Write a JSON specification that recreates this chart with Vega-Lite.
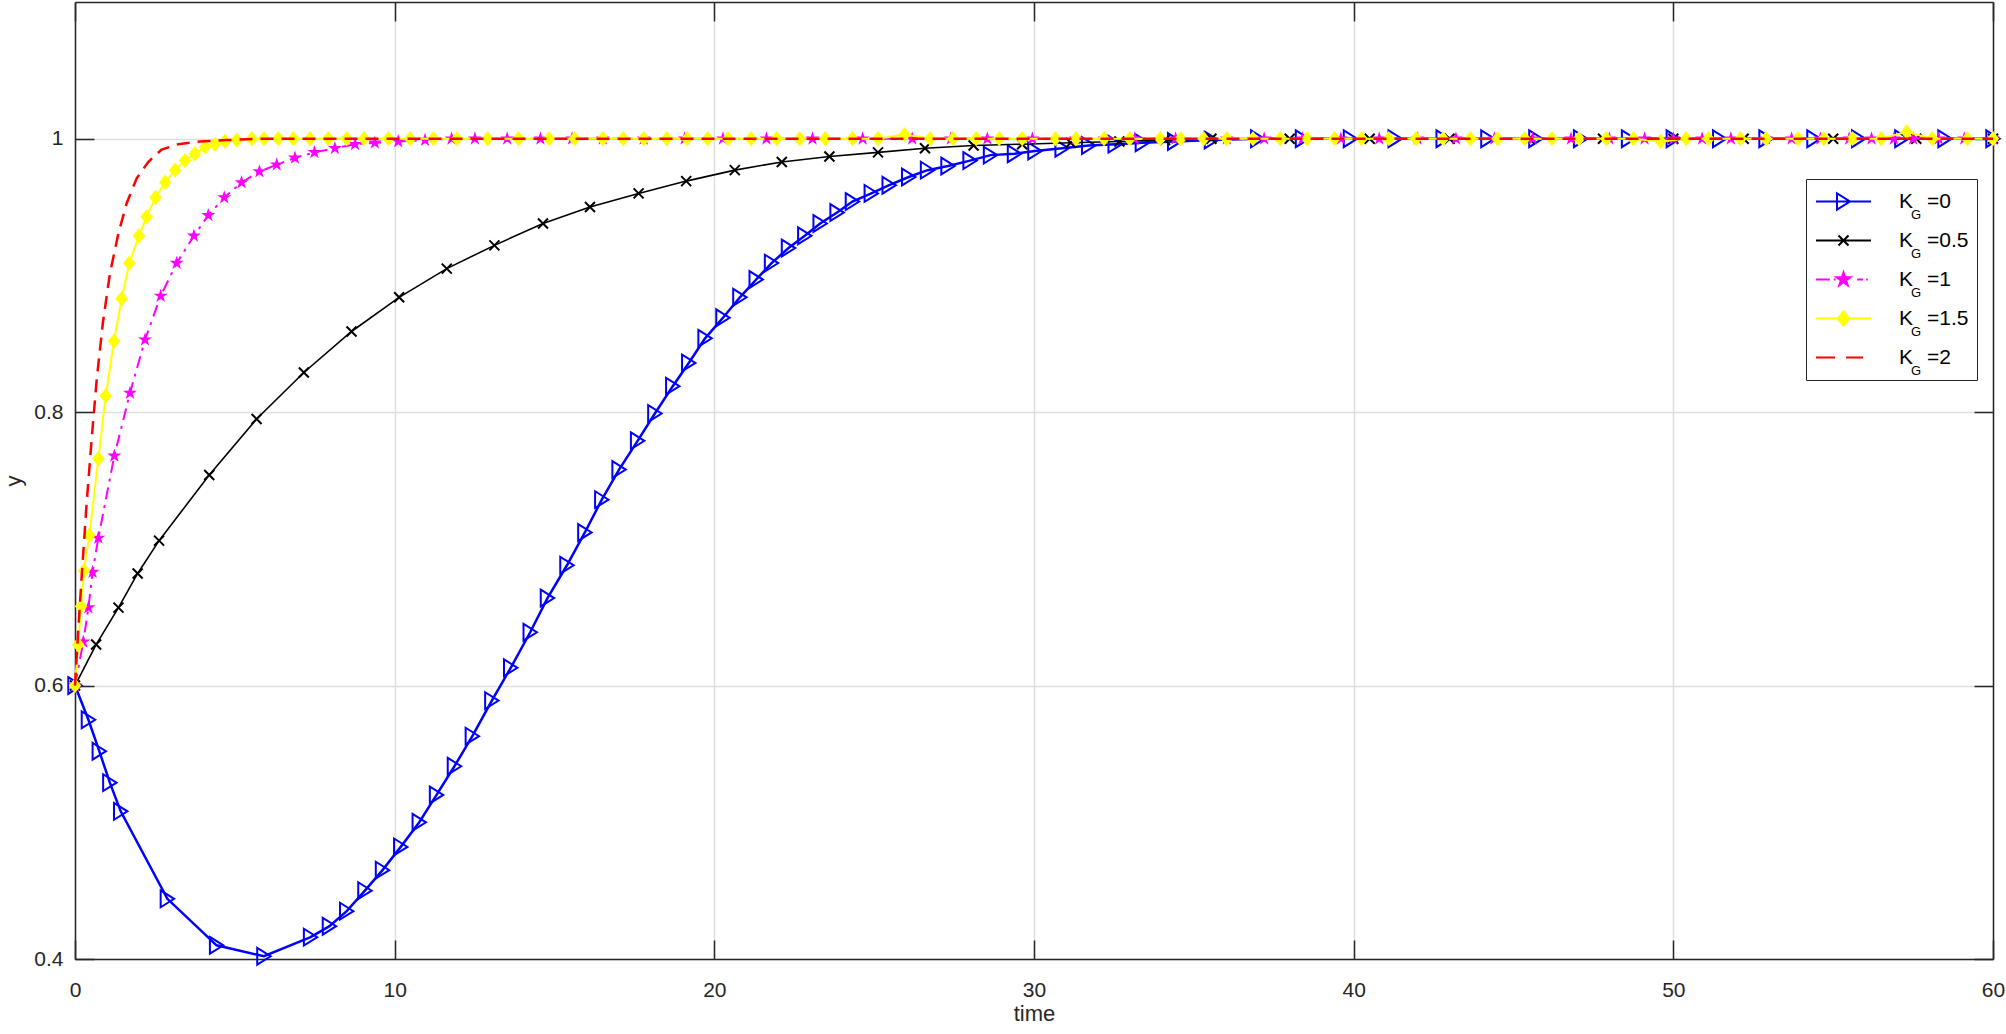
{
"$schema": "https://vega.github.io/schema/vega-lite/v6.json",
"width": 1918, "height": 957,
"autosize": {"type": "none"},
"padding": {"left": 75, "top": 2, "right": 13, "bottom": 75},
"background": "white",
"config": {"font": "Liberation Sans", "view": {"stroke": null}},
"data": {"values": [
{"kg":0,"t":0,"y":0.6},{"kg":0,"t":0.42,"y":0.575},{"kg":0,"t":0.76,"y":0.552},{"kg":0,"t":1.09,"y":0.529},{"kg":0,"t":1.43,"y":0.508},{"kg":0,"t":2.89,"y":0.444},{"kg":0,"t":4.43,"y":0.41},{"kg":0,"t":5.91,"y":0.402},{"kg":0,"t":7.37,"y":0.416},{"kg":0,"t":7.96,"y":0.424},{"kg":0,"t":8.5,"y":0.435},{"kg":0,"t":9.07,"y":0.45},{"kg":0,"t":9.62,"y":0.465},{"kg":0,"t":10.19,"y":0.482},{"kg":0,"t":10.77,"y":0.5},{"kg":0,"t":11.31,"y":0.52},{"kg":0,"t":11.87,"y":0.541},{"kg":0,"t":12.43,"y":0.563},{"kg":0,"t":13.04,"y":0.589},{"kg":0,"t":13.63,"y":0.613},{"kg":0,"t":14.24,"y":0.639},{"kg":0,"t":14.78,"y":0.664},{"kg":0,"t":15.39,"y":0.688},{"kg":0,"t":15.95,"y":0.712},{"kg":0,"t":16.48,"y":0.736},{"kg":0,"t":17.02,"y":0.758},{"kg":0,"t":17.6,"y":0.779},{"kg":0,"t":18.14,"y":0.799},{"kg":0,"t":18.7,"y":0.819},{"kg":0,"t":19.2,"y":0.836},{"kg":0,"t":19.71,"y":0.854},{"kg":0,"t":20.27,"y":0.869},{"kg":0,"t":20.8,"y":0.884},{"kg":0,"t":21.31,"y":0.897},{"kg":0,"t":21.79,"y":0.909},{"kg":0,"t":22.32,"y":0.92},{"kg":0,"t":22.83,"y":0.929},{"kg":0,"t":23.31,"y":0.938},{"kg":0,"t":23.84,"y":0.946},{"kg":0,"t":24.32,"y":0.954},{"kg":0,"t":24.91,"y":0.96},{"kg":0,"t":25.47,"y":0.966},{"kg":0,"t":26.08,"y":0.972},{"kg":0,"t":26.67,"y":0.977},{"kg":0,"t":27.31,"y":0.98},{"kg":0,"t":28.0,"y":0.984},{"kg":0,"t":28.64,"y":0.988},{"kg":0,"t":29.39,"y":0.989},{"kg":0,"t":30.03,"y":0.991},{"kg":0,"t":30.88,"y":0.993},{"kg":0,"t":31.71,"y":0.995},{"kg":0,"t":32.54,"y":0.996},{"kg":0,"t":33.39,"y":0.997},{"kg":0,"t":34.4,"y":0.998},{"kg":0,"t":35.55,"y":0.999},{"kg":0,"t":37.0,"y":1},{"kg":0,"t":38.4,"y":1},{"kg":0,"t":39.9,"y":1},{"kg":0,"t":41.3,"y":1},{"kg":0,"t":42.8,"y":1},{"kg":0,"t":44.2,"y":1},{"kg":0,"t":45.7,"y":1},{"kg":0,"t":47.1,"y":1},{"kg":0,"t":48.6,"y":1},{"kg":0,"t":50.0,"y":1},{"kg":0,"t":51.45,"y":1},{"kg":0,"t":52.9,"y":1},{"kg":0,"t":54.4,"y":1},{"kg":0,"t":55.8,"y":1},{"kg":0,"t":57.15,"y":1},{"kg":0,"t":58.5,"y":1},{"kg":0,"t":60,"y":1},
{"kg":0.5,"t":0,"y":0.6},{"kg":0.5,"t":0.66,"y":0.63},{"kg":0.5,"t":1.36,"y":0.657},{"kg":0.5,"t":1.96,"y":0.682},{"kg":0.5,"t":2.63,"y":0.706},{"kg":0.5,"t":4.2,"y":0.754},{"kg":0.5,"t":5.68,"y":0.795},{"kg":0.5,"t":7.16,"y":0.829},{"kg":0.5,"t":8.65,"y":0.859},{"kg":0.5,"t":10.14,"y":0.884},{"kg":0.5,"t":11.63,"y":0.905},{"kg":0.5,"t":13.12,"y":0.922},{"kg":0.5,"t":14.64,"y":0.938},{"kg":0.5,"t":16.11,"y":0.95},{"kg":0.5,"t":17.63,"y":0.96},{"kg":0.5,"t":19.12,"y":0.969},{"kg":0.5,"t":20.64,"y":0.977},{"kg":0.5,"t":22.11,"y":0.983},{"kg":0.5,"t":23.6,"y":0.987},{"kg":0.5,"t":25.12,"y":0.99},{"kg":0.5,"t":26.59,"y":0.993},{"kg":0.5,"t":28.11,"y":0.995},{"kg":0.5,"t":29.63,"y":0.996},{"kg":0.5,"t":31.15,"y":0.997},{"kg":0.5,"t":32.67,"y":0.998},{"kg":0.5,"t":34.1,"y":0.999},{"kg":0.5,"t":35.55,"y":1},{"kg":0.5,"t":38.0,"y":1},{"kg":0.5,"t":40.5,"y":1},{"kg":0.5,"t":43.0,"y":1},{"kg":0.5,"t":45.5,"y":1},{"kg":0.5,"t":47.8,"y":1},{"kg":0.5,"t":50.0,"y":1},{"kg":0.5,"t":52.2,"y":1},{"kg":0.5,"t":55.0,"y":1},{"kg":0.5,"t":57.6,"y":1},{"kg":0.5,"t":60,"y":1},
{"kg":1,"t":0,"y":0.6},{"kg":1,"t":0.26,"y":0.632},{"kg":1,"t":0.42,"y":0.657},{"kg":1,"t":0.55,"y":0.683},{"kg":1,"t":0.73,"y":0.708},{"kg":1,"t":1.23,"y":0.768},{"kg":1,"t":1.72,"y":0.814},{"kg":1,"t":2.19,"y":0.853},{"kg":1,"t":2.68,"y":0.885},{"kg":1,"t":3.18,"y":0.909},{"kg":1,"t":3.72,"y":0.929},{"kg":1,"t":4.17,"y":0.944},{"kg":1,"t":4.67,"y":0.957},{"kg":1,"t":5.21,"y":0.968},{"kg":1,"t":5.77,"y":0.976},{"kg":1,"t":6.31,"y":0.981},{"kg":1,"t":6.88,"y":0.986},{"kg":1,"t":7.49,"y":0.99},{"kg":1,"t":8.13,"y":0.993},{"kg":1,"t":8.76,"y":0.996},{"kg":1,"t":9.38,"y":0.997},{"kg":1,"t":10.11,"y":0.998},{"kg":1,"t":10.95,"y":0.999},{"kg":1,"t":11.78,"y":1},{"kg":1,"t":12.51,"y":1},{"kg":1,"t":13.52,"y":1},{"kg":1,"t":14.56,"y":1},{"kg":1,"t":15.55,"y":1},{"kg":1,"t":16.51,"y":1},{"kg":1,"t":17.79,"y":1},{"kg":1,"t":19.07,"y":1},{"kg":1,"t":20.27,"y":1},{"kg":1,"t":21.63,"y":1},{"kg":1,"t":23.07,"y":1},{"kg":1,"t":24.64,"y":1},{"kg":1,"t":26.19,"y":1},{"kg":1,"t":27.4,"y":1},{"kg":1,"t":28.54,"y":1},{"kg":1,"t":29.95,"y":1},{"kg":1,"t":31.31,"y":1},{"kg":1,"t":32.2,"y":1},{"kg":1,"t":33.15,"y":1},{"kg":1,"t":34.43,"y":1},{"kg":1,"t":36.03,"y":1},{"kg":1,"t":37.2,"y":1},{"kg":1,"t":38.4,"y":1},{"kg":1,"t":39.6,"y":1},{"kg":1,"t":40.8,"y":1},{"kg":1,"t":42.0,"y":1},{"kg":1,"t":43.2,"y":1},{"kg":1,"t":44.4,"y":1},{"kg":1,"t":45.6,"y":1},{"kg":1,"t":46.8,"y":1},{"kg":1,"t":48.0,"y":1},{"kg":1,"t":49.1,"y":1},{"kg":1,"t":50.0,"y":1},{"kg":1,"t":50.9,"y":1},{"kg":1,"t":51.8,"y":1},{"kg":1,"t":52.9,"y":1},{"kg":1,"t":53.7,"y":1},{"kg":1,"t":54.6,"y":1},{"kg":1,"t":55.5,"y":1},{"kg":1,"t":56.2,"y":1},{"kg":1,"t":56.9,"y":1},{"kg":1,"t":57.5,"y":1},{"kg":1,"t":58.3,"y":1},{"kg":1,"t":59.1,"y":1},{"kg":1,"t":60,"y":1},
{"kg":1.5,"t":0,"y":0.6},{"kg":1.5,"t":0.1,"y":0.63},{"kg":1.5,"t":0.19,"y":0.658},{"kg":1.5,"t":0.28,"y":0.684},{"kg":1.5,"t":0.45,"y":0.71},{"kg":1.5,"t":0.73,"y":0.766},{"kg":1.5,"t":0.96,"y":0.812},{"kg":1.5,"t":1.22,"y":0.852},{"kg":1.5,"t":1.46,"y":0.883},{"kg":1.5,"t":1.7,"y":0.909},{"kg":1.5,"t":2.0,"y":0.929},{"kg":1.5,"t":2.24,"y":0.943},{"kg":1.5,"t":2.52,"y":0.957},{"kg":1.5,"t":2.82,"y":0.968},{"kg":1.5,"t":3.13,"y":0.977},{"kg":1.5,"t":3.44,"y":0.984},{"kg":1.5,"t":3.75,"y":0.989},{"kg":1.5,"t":4.07,"y":0.994},{"kg":1.5,"t":4.38,"y":0.996},{"kg":1.5,"t":4.69,"y":0.998},{"kg":1.5,"t":5.06,"y":0.999},{"kg":1.5,"t":5.53,"y":1},{"kg":1.5,"t":5.91,"y":1},{"kg":1.5,"t":6.36,"y":1},{"kg":1.5,"t":6.83,"y":1},{"kg":1.5,"t":7.35,"y":1},{"kg":1.5,"t":7.92,"y":1},{"kg":1.5,"t":8.5,"y":1},{"kg":1.5,"t":9.04,"y":1},{"kg":1.5,"t":9.8,"y":1},{"kg":1.5,"t":10.48,"y":1},{"kg":1.5,"t":11.21,"y":1},{"kg":1.5,"t":11.95,"y":1},{"kg":1.5,"t":12.91,"y":1},{"kg":1.5,"t":13.87,"y":1},{"kg":1.5,"t":14.83,"y":1},{"kg":1.5,"t":15.63,"y":1},{"kg":1.5,"t":16.51,"y":1},{"kg":1.5,"t":17.15,"y":1},{"kg":1.5,"t":17.79,"y":1},{"kg":1.5,"t":18.51,"y":1},{"kg":1.5,"t":19.15,"y":1},{"kg":1.5,"t":19.79,"y":1},{"kg":1.5,"t":20.43,"y":1},{"kg":1.5,"t":21.15,"y":1},{"kg":1.5,"t":21.95,"y":1},{"kg":1.5,"t":22.67,"y":1},{"kg":1.5,"t":23.47,"y":1},{"kg":1.5,"t":24.32,"y":1},{"kg":1.5,"t":25.12,"y":1},{"kg":1.5,"t":25.95,"y":1.003},{"kg":1.5,"t":26.75,"y":1},{"kg":1.5,"t":27.47,"y":1},{"kg":1.5,"t":28.19,"y":1},{"kg":1.5,"t":28.91,"y":1},{"kg":1.5,"t":29.63,"y":1},{"kg":1.5,"t":30.67,"y":1},{"kg":1.5,"t":31.31,"y":1},{"kg":1.5,"t":32.19,"y":1},{"kg":1.5,"t":32.99,"y":1},{"kg":1.5,"t":33.95,"y":1},{"kg":1.5,"t":34.59,"y":1},{"kg":1.5,"t":35.31,"y":1},{"kg":1.5,"t":36.03,"y":1},{"kg":1.5,"t":36.85,"y":1},{"kg":1.5,"t":37.7,"y":1},{"kg":1.5,"t":38.55,"y":1},{"kg":1.5,"t":39.4,"y":1},{"kg":1.5,"t":40.25,"y":1},{"kg":1.5,"t":41.1,"y":1},{"kg":1.5,"t":41.95,"y":1},{"kg":1.5,"t":42.8,"y":1},{"kg":1.5,"t":43.65,"y":1},{"kg":1.5,"t":44.5,"y":1},{"kg":1.5,"t":45.35,"y":1},{"kg":1.5,"t":46.2,"y":1},{"kg":1.5,"t":47.05,"y":1},{"kg":1.5,"t":47.9,"y":1},{"kg":1.5,"t":48.75,"y":1},{"kg":1.5,"t":49.6,"y":0.998},{"kg":1.5,"t":50.4,"y":1},{"kg":1.5,"t":51.1,"y":1},{"kg":1.5,"t":52.1,"y":1},{"kg":1.5,"t":52.9,"y":1},{"kg":1.5,"t":53.9,"y":1},{"kg":1.5,"t":54.7,"y":1},{"kg":1.5,"t":55.6,"y":1},{"kg":1.5,"t":56.5,"y":1},{"kg":1.5,"t":57.3,"y":1.005},{"kg":1.5,"t":58.1,"y":1},{"kg":1.5,"t":59.2,"y":1},{"kg":1.5,"t":60,"y":1},
{"kg":2,"t":0,"y":0.6},{"kg":2,"t":0.1,"y":0.64},{"kg":2,"t":0.21,"y":0.68},{"kg":2,"t":0.36,"y":0.732},{"kg":2,"t":0.52,"y":0.78},{"kg":2,"t":0.68,"y":0.824},{"kg":2,"t":0.87,"y":0.865},{"kg":2,"t":1.09,"y":0.901},{"kg":2,"t":1.36,"y":0.931},{"kg":2,"t":1.62,"y":0.953},{"kg":2,"t":1.93,"y":0.971},{"kg":2,"t":2.29,"y":0.983},{"kg":2,"t":2.71,"y":0.992},{"kg":2,"t":3.23,"y":0.996},{"kg":2,"t":3.91,"y":0.998},{"kg":2,"t":4.74,"y":0.999},{"kg":2,"t":5.79,"y":1},{"kg":2,"t":60,"y":1}
]},
"encoding": {
  "x": {"field": "t", "type": "quantitative", "scale": {"domain": [0, 60], "nice": false, "zero": false}, "axis": null},
  "y": {"field": "y", "type": "quantitative", "scale": {"domain": [0.4, 1.1], "nice": false, "zero": false}, "axis": null}
},
"layer": [
  {"transform": [{"filter": "datum.kg == 0"}],
   "mark": {"type": "line", "color": "#0000FF", "strokeWidth": 2.5},
   "encoding": {
     "x": {"field": "t", "type": "quantitative", "scale": {"domain": [0, 60], "nice": false, "zero": false},
           "axis": {"orient": "bottom", "values": [0,10,20,30,40,50,60], "grid": true, "gridColor": "#dedede", "gridWidth": 1.5,
                    "domainColor": "#262626", "domainWidth": 1.5, "tickSize": -19, "tickColor": "#262626", "tickWidth": 1.5,
                    "labelFontSize": 21, "labelColor": "#262626", "labelPadding": 39, "labelFlush": false, "labelFont": "Liberation Sans",
                    "title": "time", "titleFontSize": 22, "titleFontWeight": "normal", "titleColor": "#262626", "titleFont": "Liberation Sans", "titlePadding": 3}},
     "y": {"field": "y", "type": "quantitative", "scale": {"domain": [0.4, 1.1], "nice": false, "zero": false},
           "axis": {"orient": "left", "values": [0.4,0.6,0.8,1], "format": "~g", "grid": true, "gridColor": "#dedede", "gridWidth": 1.5,
                    "domainColor": "#262626", "domainWidth": 1.5, "tickSize": -19, "tickColor": "#262626", "tickWidth": 1.5,
                    "labelFontSize": 21, "labelColor": "#262626", "labelPadding": 31, "labelFont": "Liberation Sans",
                    "title": "y", "titleFontSize": 22, "titleFontWeight": "normal", "titleColor": "#262626", "titleFont": "Liberation Sans", "titlePadding": 8}}
   }},
  {"transform": [{"filter": "datum.kg == 0"}],
   "mark": {"type": "point", "shape": "M-1,-1.25L1,0L-1,1.25Z", "size": 180, "filled": false, "color": "#0000FF", "strokeWidth": 2, "opacity": 1},
   "encoding": {
     "x": {"field": "t", "type": "quantitative", "scale": {"domain": [0, 60], "nice": false, "zero": false},
           "axis": {"orient": "top", "values": [0,10,20,30,40,50,60], "grid": false, "labels": false, "title": null,
                    "domainColor": "#262626", "domainWidth": 1.5, "tickSize": -19, "tickColor": "#262626", "tickWidth": 1.5}},
     "y": {"field": "y", "type": "quantitative", "scale": {"domain": [0.4, 1.1], "nice": false, "zero": false},
           "axis": {"orient": "right", "values": [0.4,0.6,0.8,1], "grid": false, "labels": false, "title": null,
                    "domainColor": "#262626", "domainWidth": 1.5, "tickSize": -19, "tickColor": "#262626", "tickWidth": 1.5}}
   }},
  {"transform": [{"filter": "datum.kg == 0.5"}],
   "mark": {"type": "line", "color": "#000000", "strokeWidth": 1.6}},
  {"transform": [{"filter": "datum.kg == 0.5"}],
   "mark": {"type": "point", "shape": "M-1,-1L1,1M1,-1L-1,1", "size": 100, "filled": false, "color": "#000000", "strokeWidth": 2, "opacity": 1}},
  {"transform": [{"filter": "datum.kg == 1"}],
   "mark": {"type": "line", "color": "#FF00FF", "strokeWidth": 2, "strokeDash": [12, 6, 3, 6]}},
  {"transform": [{"filter": "datum.kg == 1"}],
   "mark": {"type": "point", "shape": "M0,-1L0.225,-0.309L0.951,-0.309L0.363,0.118L0.588,0.809L0,0.382L-0.588,0.809L-0.363,0.118L-0.951,-0.309L-0.225,-0.309Z", "size": 216, "filled": true, "color": "#FF00FF", "opacity": 1}},
  {"transform": [{"filter": "datum.kg == 1.5"}],
   "mark": {"type": "line", "color": "#FFFF00", "strokeWidth": 2}},
  {"transform": [{"filter": "datum.kg == 1.5"}],
   "mark": {"type": "point", "shape": "M0,-1.1L0.9,0L0,1.1L-0.9,0Z", "size": 193, "filled": true, "color": "#FFFF00", "opacity": 1}},
  {"transform": [{"filter": "datum.kg == 2"}],
   "mark": {"type": "line", "color": "#FF0000", "strokeWidth": 2.5, "strokeDash": [13, 8]}},
  {"transform": [{"filter": "false"}],
   "mark": {"type": "point", "opacity": 1, "strokeWidth": 2},
   "encoding": {
     "shape": {"field": "kg", "type": "nominal",
               "scale": {"domain": [0, 0.5, 1, 1.5, 2], "range": [
                 "M-4.23,0L4.23,0M-1,-1.25L1,0L-1,1.25Z",
                 "M-4.23,0L4.23,0M-0.77,-0.77L0.77,0.77M0.77,-0.77L-0.77,0.77",
                 "M-4.23,0L-2.1,0M-1.5,0L-1.2,0M2.1,0L3,0M3.5,0L3.75,0M0,-1.1L0.248,-0.34L1.046,-0.34L0.399,0.13L0.647,0.89L0,0.42L-0.647,0.89L-0.399,0.13L-1.046,-0.34L-0.248,-0.34Z",
                 "M-4.23,0L4.23,0M0,-1.1L0.9,0L0,1.1L-0.9,0Z",
                 "M-4.23,0L-1.3,0M0.4,0L3,0"]},
               "legend": {"orient": "none", "legendX": 1731, "legendY": 177, "title": null, "padding": 8, "symbolSize": 169, "symbolStrokeWidth": 2, "symbolOffset": 19, "labelOffset": 45, "clipHeight": 29, "rowPadding": 10, "labelFontSize": 21, "labelFont": "Liberation Sans", "labelColor": "#000000", "labelExpr": "'K'", "zindex": 2, "labelLimit": 0}},
     "fill": {"field": "kg", "type": "nominal",
              "scale": {"domain": [0, 0.5, 1, 1.5, 2], "range": ["transparent", "transparent", "#FF00FF", "#FFFF00", "transparent"]},
              "legend": {"orient": "none", "legendX": 1731, "legendY": 177, "title": null, "padding": 8, "symbolSize": 169, "symbolStrokeWidth": 2, "symbolOffset": 19, "labelOffset": 45, "clipHeight": 29, "rowPadding": 10, "labelFontSize": 21, "labelFont": "Liberation Sans", "labelColor": "#000000", "labelExpr": "'K'", "zindex": 2, "labelLimit": 0}},
     "stroke": {"field": "kg", "type": "nominal",
                "scale": {"domain": [0, 0.5, 1, 1.5, 2], "range": ["#0000FF", "#000000", "#FF00FF", "#FFFF00", "#FF0000"]},
                "legend": {"orient": "none", "legendX": 1731, "legendY": 177, "title": null, "padding": 8, "symbolSize": 169, "symbolStrokeWidth": 2, "symbolOffset": 19, "labelOffset": 45, "clipHeight": 29, "rowPadding": 10, "labelFontSize": 21, "labelFont": "Liberation Sans", "labelColor": "#000000", "labelExpr": "'K'", "zindex": 2, "labelLimit": 0}},
     "opacity": {"field": "kg", "type": "quantitative",
                 "scale": {"domain": [0, 2], "range": [0, 0]},
                 "legend": {"type": "symbol", "values": [0, 0.5, 1, 1.5, 2], "orient": "none", "legendX": 1749, "legendY": 190, "title": null, "padding": 8, "symbolSize": 169, "symbolStrokeWidth": 2, "symbolOffset": 19, "labelOffset": 45, "clipHeight": 29, "rowPadding": 10, "labelFontSize": 13, "labelFont": "Liberation Sans", "labelColor": "#000000", "labelExpr": "'G'", "zindex": 3}},
     "size": {"field": "kg", "type": "quantitative",
              "scale": {"domain": [0, 2.5], "range": [0, 0]},
              "legend": {"type": "symbol", "values": [0, 0.5, 1, 1.5, 2], "orient": "none", "legendX": 1731, "legendY": 177, "title": null, "padding": 8, "symbolStrokeWidth": 0, "symbolOffset": 0, "labelOffset": 92, "clipHeight": 29, "rowPadding": 10, "labelFontSize": 21, "labelFont": "Liberation Sans", "labelColor": "#000000", "labelExpr": "'=' + datum.value", "strokeColor": "#262626", "fillColor": "#ffffff", "zindex": 1, "labelLimit": 0}}
   }}
]
}
